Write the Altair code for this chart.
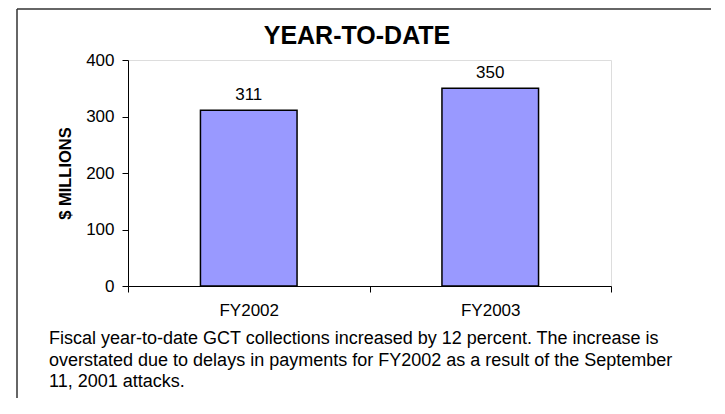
import altair as alt
import pandas as pd

categories = ["FY2002", "FY2003"]
values = [311, 350]
y_ticks = [0, 100, 200, 300, 400]
chart_title = "YEAR-TO-DATE"
caption_lines = [
    "Fiscal year-to-date GCT collections increased by 12 percent. The increase is",
    "overstated due to delays in payments for FY2002 as a result of the September",
    "11, 2001 attacks.",
]

df = pd.DataFrame({"year": categories, "value": values})
FONT = "Liberation Sans"

x_enc = alt.X(
    "year:N",
    sort=categories,
    scale=alt.Scale(paddingInner=0, paddingOuter=0),
    axis=alt.Axis(
        title=None, labelAngle=0, tickBand="extent", tickSize=6,
        labelPadding=10, labelFontSize=17, labelColor="black",
        domainColor="black", tickColor="black", labelFont=FONT,
    ),
)
y_enc = alt.Y(
    "value:Q",
    scale=alt.Scale(domain=[0, 400], nice=False),
    axis=alt.Axis(
        values=y_ticks, title="$ MILLIONS", grid=False, tickSize=6,
        labelPadding=8, labelFontSize=17, labelColor="black",
        domainColor="black", tickColor="black", labelFont=FONT,
        titleFont=FONT, titleFontSize=16.5, titleFontWeight="bold",
        titleAngle=-90, titleX=-63, titleY=113, titleAlign="center",
        titleBaseline="middle", titleColor="black",
    ),
)

bars = alt.Chart(df).mark_bar(
    color="#9999FF", stroke="black", strokeWidth=1.5,
    width=alt.RelativeBandSize(0.4),
).encode(x=x_enc, y=y_enc)

labels = alt.Chart(df).mark_text(
    baseline="bottom", dy=-6, fontSize=17, font=FONT, color="black"
).encode(x=alt.X("year:N", sort=categories), y="value:Q", text="value:Q")

title_mark = alt.Chart(pd.DataFrame({"t": [chart_title]})).mark_text(
    align="center", baseline="alphabetic", fontSize=25, font=FONT,
    fontWeight="bold", color="black",
).encode(x=alt.value(229), y=alt.value(-16), text="t")

caption = alt.Chart(pd.DataFrame({"t": [caption_lines]})).mark_text(
    align="left", baseline="alphabetic", fontSize=18, font=FONT,
    color="black", lineHeight=21.5,
).encode(x=alt.value(-79), y=alt.value(284), text="t")

border_left = alt.Chart(pd.DataFrame({"a": [0]})).mark_rule(
    color="#333333", strokeWidth=1.5
).encode(x=alt.value(-111), y=alt.value(-51), y2=alt.value(340))
border_top = alt.Chart(pd.DataFrame({"a": [0]})).mark_rule(
    color="#333333", strokeWidth=1.5
).encode(x=alt.value(-111), x2=alt.value(600), y=alt.value(-51))

chart = alt.layer(bars, labels, title_mark, caption, border_left, border_top).properties(
    width=483,
    height=226,
    autosize=alt.AutoSizeParams(type="none"),
    padding={"left": 120, "top": 52, "right": 100, "bottom": 112},
).configure_view(stroke="#808080", strokeWidth=1.5).configure(background="white")

chart.save("out.html", embed_options={"renderer": "svg", "actions": False})
